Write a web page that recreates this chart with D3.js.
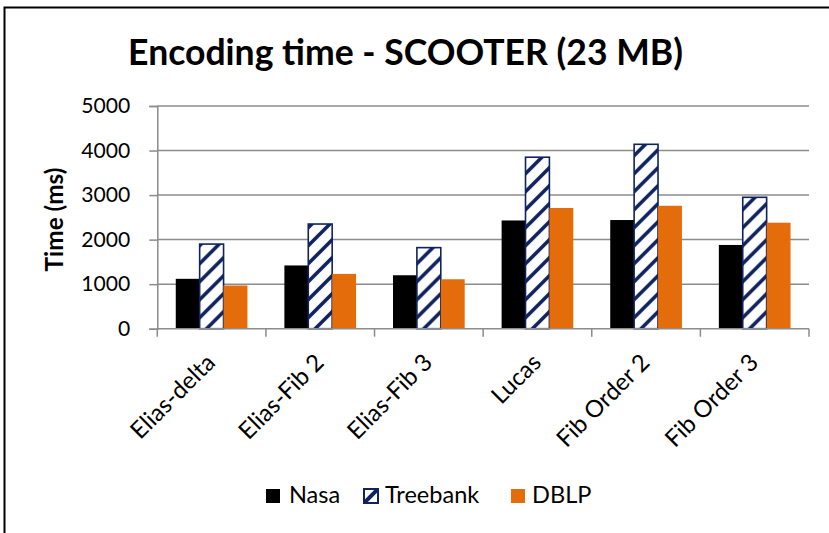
<!DOCTYPE html>
<html>
<head>
<meta charset="utf-8">
<script src="https://cdn.jsdelivr.net/npm/d3@7"></script>
<style>
  html, body { margin: 0; padding: 0; background: #fff; }
  svg { display: block; }
  text { font-family: Lato, "Open Sans", sans-serif; fill: #000; }
</style>
</head>
<body>
<svg id="chart" width="829" height="533"></svg>
<script>
// ---- data ----
const categories = ["Elias-delta", "Elias-Fib 2", "Elias-Fib 3", "Lucas", "Fib Order 2", "Fib Order 3"];
const seriesNames = ["Nasa", "Treebank", "DBLP"];
const nasa     = [1120, 1420, 1200, 2430, 2440, 1880];
const treebank = [1900, 2350, 1820, 3850, 4140, 2950];
const dblp     = [970, 1230, 1110, 2710, 2760, 2380];
const yTicks   = [0, 1000, 2000, 3000, 4000, 5000];
const titleText = "Encoding time - SCOOTER (23 MB)";
const yTitle = "Time (ms)";

const seriesValues = [nasa, treebank, dblp];
const navy = "#0f245e";
const colors = { Nasa: "#000000", Treebank: "url(#stripes)", DBLP: "#e46c0a" };

const svg = d3.select("#chart");

// font sizes fitted so Lato matches the reference text widths
function measure(str, weight) {
  const p = svg.append("text").attr("font-size", 20).attr("font-weight", weight || "normal").text(str);
  const w = p.node().getComputedTextLength();
  p.remove();
  return w;
}
function fit(str, target, weight) { return 20 * target / measure(str, weight); }
const FS  = 20 * 205 / seriesNames.reduce((a, s) => a + measure(s), 0);
const FSx = fit("Elias-delta", 108);
const FSy = fit(yTitle, 104, "bold");
const FSt = fit("5000", 49);

// pattern
const defs = svg.append("defs");
const pat = defs.append("pattern")
  .attr("id", "stripes").attr("patternUnits", "userSpaceOnUse")
  .attr("width", 18).attr("height", 18);
pat.append("rect").attr("width", 18).attr("height", 18).attr("fill", "#fff");
pat.append("path")
  .attr("d", "M-4.5,4.5 L4.5,-4.5 M0,18 L18,0 M13.5,22.5 L22.5,13.5")
  .attr("stroke", navy).attr("stroke-width", 3.6);
const pat2 = defs.append("pattern")
  .attr("id", "stripesLegend").attr("patternUnits", "userSpaceOnUse")
  .attr("width", 14).attr("height", 14).attr("x", 364).attr("y", 489);
pat2.append("rect").attr("width", 14).attr("height", 14).attr("fill", "#fff");
pat2.append("path").attr("d", "M0,14 L14,0").attr("stroke", navy).attr("stroke-width", 4);

// outer border (top and left visible)
svg.append("rect").attr("x", 4.5).attr("y", 7.5).attr("width", 900).attr("height", 600)
  .attr("fill", "none").attr("stroke", "#000").attr("stroke-width", 2);

const plot = { left: 157.3, right: 809, top: 106, bottom: 328.7 };

const x0 = d3.scaleBand().domain(categories).range([plot.left, plot.right]).padding(0);
const x1 = d3.scaleBand().domain(seriesNames).range([x0.bandwidth() * 0.17, x0.bandwidth() * 0.83]).padding(0);
const y = d3.scaleLinear().domain([0, 5000]).range([plot.bottom, plot.top]);

// gridlines
svg.append("g").selectAll("line").data(yTicks.filter(d => d > 0)).join("line")
  .attr("x1", plot.left).attr("x2", plot.right)
  .attr("y1", d => y(d)).attr("y2", d => y(d))
  .attr("stroke", "#8c8c8c").attr("stroke-width", 1.5);

// y axis
const yAxis = svg.append("g").attr("transform", `translate(${plot.left},0)`)
  .call(d3.axisLeft(y).tickValues(yTicks).tickSize(8).tickPadding(19).tickFormat(d3.format("d")));
yAxis.select(".domain").attr("stroke", "#8c8c8c").attr("stroke-width", 1.5);
yAxis.selectAll(".tick line").attr("stroke", "#8c8c8c").attr("stroke-width", 1.5);
yAxis.selectAll(".tick text").attr("font-size", FSt).attr("font-family", "Lato").attr("fill", "#000");

// bars
const groups = svg.append("g").selectAll("g").data(categories).join("g")
  .attr("transform", d => `translate(${x0(d)},0)`);
groups.selectAll("rect")
  .data((c, i) => seriesNames.map((s, k) => ({ s, v: seriesValues[k][i] })))
  .join("rect")
  .attr("x", d => x1(d.s))
  .attr("width", x1.bandwidth())
  .attr("y", d => y(d.v))
  .attr("height", d => y(0) - y(d.v))
  .attr("fill", d => colors[d.s])
  .attr("stroke", d => d.s === "Treebank" ? navy : "none")
  .attr("stroke-width", 1.6);

// x axis
const xAxis = svg.append("g").attr("transform", `translate(0,${plot.bottom})`);
xAxis.append("line").attr("x1", plot.left).attr("x2", plot.right)
  .attr("stroke", "#8c8c8c").attr("stroke-width", 1.5);
const bounds = categories.map(c => x0(c)).concat([plot.right]);
xAxis.selectAll("line.tk").data(bounds).join("line").attr("class", "tk")
  .attr("x1", d => d).attr("x2", d => d).attr("y1", 0).attr("y2", 8)
  .attr("stroke", "#8c8c8c").attr("stroke-width", 1.5);
xAxis.selectAll("text").data(categories).join("text")
  .attr("transform", d => `translate(${x0(d) + x0.bandwidth() / 2 + 5},${364 - plot.bottom}) rotate(-45)`)
  .attr("text-anchor", "end")
  .attr("font-size", FSx)
  .text(d => d);

// y title
svg.append("text")
  .attr("transform", `translate(63,219.5) rotate(-90)`)
  .attr("text-anchor", "middle").attr("font-size", FSy).attr("font-weight", "bold")
  .text(yTitle);

// title
const t = svg.append("text").attr("x", 405.5).attr("y", 64.5)
  .attr("text-anchor", "middle").attr("font-size", 35).attr("font-weight", "bold")
  .text(titleText);
const tl = t.node().getComputedTextLength();
t.attr("font-size", 35 * 555 / tl);

// legend
const legendItems = [
  { name: "Nasa", sx: 266, tx: 289, fill: "#000", stroke: "none" },
  { name: "Treebank", sx: 364, tx: 385, fill: "url(#stripesLegend)", stroke: navy },
  { name: "DBLP", sx: 511, tx: 532, fill: "#e46c0a", stroke: "none" }
];
const lg = svg.append("g").selectAll("g").data(legendItems).join("g");
lg.append("rect").attr("x", d => d.sx).attr("y", 489).attr("width", 14).attr("height", 14)
  .attr("fill", d => d.fill).attr("stroke", d => d.stroke).attr("stroke-width", 2);
lg.append("text").attr("x", d => d.tx).attr("y", 503).attr("font-size", FS).text(d => d.name);
</script>
</body>
</html>
